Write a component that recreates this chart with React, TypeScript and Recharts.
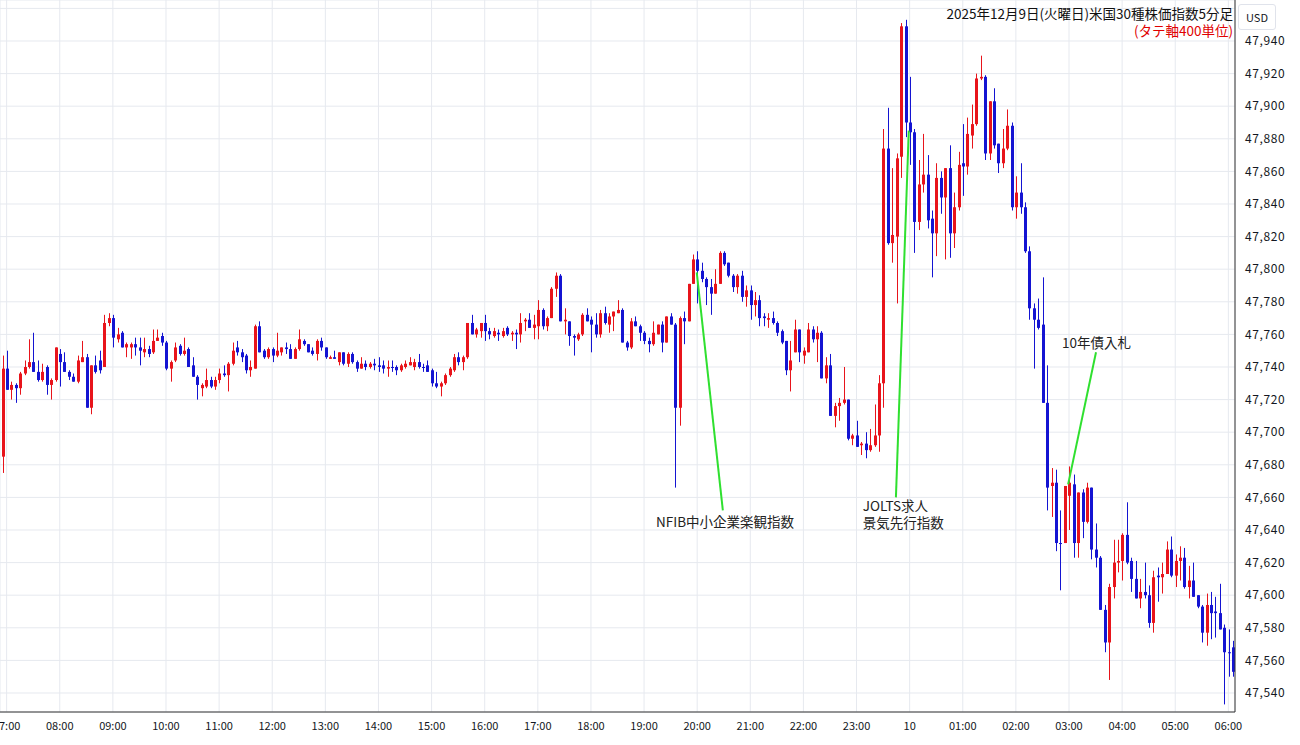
import React from 'react';
import {
  Bar,
  CartesianGrid,
  ComposedChart,
  ReferenceDot,
  ReferenceLine,
  XAxis,
  YAxis,
} from 'recharts';

// 5-minute candles, first one at 06:55 JST (index 0), [open, high, low, close]
const ohlc: [number, number, number, number][] = [
  [47685, 47747, 47675, 47739], [47739, 47750, 47726, 47726], [47726, 47731, 47720, 47729], [47729, 47730, 47718, 47727],
  [47727, 47737, 47723, 47736], [47736, 47744, 47735, 47740], [47740, 47757, 47739, 47743], [47743, 47761, 47737, 47737],
  [47737, 47744, 47731, 47732], [47732, 47742, 47731, 47737], [47740, 47741, 47723, 47729], [47729, 47733, 47720, 47732],
  [47732, 47752, 47731, 47752], [47748, 47751, 47728, 47743], [47743, 47749, 47737, 47737], [47737, 47738, 47732, 47734],
  [47734, 47736, 47731, 47731], [47731, 47747, 47730, 47744], [47743, 47756, 47743, 47746], [47746, 47748, 47715, 47715],
  [47715, 47741, 47711, 47741], [47741, 47747, 47736, 47737], [47744, 47750, 47736, 47738], [47740, 47772, 47740, 47767],
  [47767, 47773, 47765, 47770], [47770, 47772, 47752, 47758], [47757, 47764, 47755, 47760], [47761, 47762, 47752, 47752],
  [47752, 47755, 47746, 47754], [47752, 47755, 47745, 47754], [47754, 47758, 47747, 47752], [47752, 47758, 47741, 47750],
  [47749, 47758, 47746, 47751], [47751, 47753, 47746, 47748], [47749, 47763, 47748, 47756], [47756, 47763, 47756, 47758],
  [47759, 47761, 47753, 47755], [47755, 47756, 47738, 47739], [47739, 47744, 47731, 47743], [47744, 47755, 47743, 47752],
  [47753, 47754, 47747, 47748], [47748, 47758, 47747, 47750], [47751, 47752, 47740, 47740], [47741, 47746, 47734, 47734],
  [47734, 47735, 47720, 47729], [47727, 47730, 47722, 47729], [47728, 47739, 47727, 47732], [47732, 47734, 47727, 47728],
  [47728, 47734, 47726, 47732], [47732, 47739, 47730, 47736], [47736, 47741, 47734, 47735], [47735, 47743, 47725, 47742],
  [47742, 47755, 47741, 47750], [47752, 47756, 47747, 47749], [47749, 47751, 47743, 47746], [47747, 47748, 47736, 47738],
  [47738, 47744, 47734, 47740], [47739, 47766, 47739, 47765], [47765, 47768, 47749, 47749], [47750, 47751, 47745, 47746],
  [47746, 47752, 47745, 47751], [47751, 47752, 47743, 47747], [47747, 47761, 47746, 47750], [47749, 47752, 47747, 47752],
  [47752, 47755, 47748, 47751], [47751, 47754, 47745, 47745], [47745, 47752, 47745, 47751], [47751, 47763, 47750, 47757],
  [47756, 47757, 47753, 47754], [47754, 47754, 47749, 47749], [47750, 47752, 47747, 47748], [47748, 47757, 47744, 47756],
  [47756, 47758, 47750, 47752], [47752, 47752, 47745, 47746], [47745, 47747, 47745, 47746], [47746, 47750, 47745, 47745],
  [47743, 47749, 47741, 47749], [47749, 47749, 47741, 47742], [47742, 47749, 47740, 47748], [47748, 47749, 47742, 47743],
  [47743, 47744, 47737, 47739], [47739, 47746, 47739, 47742], [47742, 47744, 47738, 47740], [47740, 47743, 47739, 47742],
  [47742, 47745, 47738, 47741], [47741, 47746, 47737, 47740], [47741, 47744, 47736, 47739], [47739, 47744, 47734, 47740],
  [47740, 47744, 47737, 47740], [47740, 47741, 47735, 47738], [47738, 47742, 47737, 47741], [47740, 47744, 47739, 47742],
  [47741, 47746, 47741, 47743], [47740, 47745, 47738, 47743], [47743, 47748, 47739, 47740], [47740, 47742, 47737, 47740],
  [47741, 47744, 47737, 47737], [47738, 47739, 47728, 47730], [47730, 47737, 47727, 47728], [47728, 47731, 47722, 47730],
  [47730, 47736, 47729, 47735], [47735, 47740, 47734, 47739], [47738, 47748, 47737, 47746], [47746, 47749, 47741, 47743],
  [47743, 47747, 47738, 47746], [47746, 47767, 47745, 47767], [47767, 47772, 47760, 47760], [47760, 47764, 47758, 47763],
  [47762, 47767, 47758, 47767], [47767, 47772, 47756, 47762], [47762, 47764, 47757, 47760], [47759, 47764, 47758, 47762],
  [47761, 47763, 47756, 47760], [47759, 47764, 47758, 47762], [47764, 47765, 47759, 47760], [47760, 47762, 47756, 47761],
  [47761, 47763, 47751, 47760], [47760, 47773, 47755, 47767], [47768, 47770, 47762, 47769], [47769, 47773, 47764, 47764],
  [47764, 47772, 47757, 47766], [47765, 47781, 47757, 47775], [47775, 47776, 47763, 47765], [47765, 47771, 47762, 47770],
  [47770, 47789, 47770, 47788], [47788, 47798, 47783, 47796], [47796, 47797, 47768, 47768], [47768, 47776, 47760, 47769],
  [47768, 47768, 47753, 47759], [47759, 47760, 47747, 47758], [47757, 47761, 47756, 47760], [47760, 47773, 47759, 47772],
  [47772, 47776, 47768, 47768], [47769, 47771, 47749, 47766], [47766, 47773, 47758, 47760], [47760, 47775, 47758, 47773],
  [47773, 47777, 47766, 47767], [47766, 47773, 47761, 47771], [47771, 47774, 47762, 47774], [47773, 47781, 47773, 47775],
  [47775, 47776, 47755, 47755], [47755, 47756, 47750, 47752], [47752, 47770, 47751, 47768], [47768, 47771, 47765, 47765],
  [47765, 47766, 47756, 47761], [47761, 47762, 47754, 47756], [47756, 47758, 47749, 47754], [47754, 47768, 47753, 47761],
  [47760, 47766, 47760, 47766], [47766, 47768, 47749, 47755], [47755, 47771, 47755, 47771], [47771, 47773, 47766, 47766],
  [47766, 47767, 47666, 47715], [47715, 47771, 47704, 47770], [47770, 47774, 47754, 47768], [47768, 47791, 47768, 47791],
  [47791, 47809, 47791, 47806], [47806, 47811, 47779, 47799], [47799, 47804, 47792, 47794], [47794, 47795, 47778, 47789],
  [47789, 47794, 47772, 47785], [47785, 47800, 47785, 47791], [47791, 47811, 47791, 47810], [47810, 47811, 47802, 47803],
  [47804, 47804, 47795, 47796], [47796, 47797, 47786, 47789], [47789, 47797, 47785, 47796], [47796, 47799, 47780, 47783],
  [47783, 47790, 47777, 47787], [47787, 47790, 47769, 47778], [47778, 47786, 47771, 47781], [47781, 47784, 47765, 47770],
  [47771, 47773, 47765, 47770], [47769, 47773, 47764, 47770], [47770, 47774, 47766, 47767], [47767, 47768, 47759, 47761],
  [47762, 47763, 47754, 47755], [47756, 47756, 47735, 47738], [47738, 47756, 47725, 47744], [47749, 47769, 47749, 47763],
  [47763, 47763, 47743, 47749], [47747, 47752, 47742, 47750], [47749, 47767, 47749, 47763], [47763, 47765, 47755, 47757],
  [47757, 47765, 47743, 47761], [47761, 47762, 47733, 47733], [47733, 47746, 47730, 47741], [47741, 47748, 47710, 47710],
  [47710, 47718, 47703, 47716], [47716, 47721, 47707, 47718], [47718, 47740, 47717, 47720], [47720, 47720, 47695, 47696],
  [47696, 47699, 47692, 47698], [47698, 47707, 47691, 47691], [47692, 47694, 47686, 47693], [47693, 47700, 47684, 47689],
  [47689, 47702, 47688, 47692], [47692, 47717, 47691, 47698], [47698, 47735, 47688, 47730], [47730, 47886, 47715, 47874],
  [47874, 47899, 47815, 47816], [47816, 47862, 47804, 47821], [47820, 47871, 47779, 47868], [47869, 47951, 47856, 47949],
  [47949, 47953, 47881, 47890], [47890, 47918, 47864, 47884], [47884, 47886, 47810, 47829], [47829, 47867, 47824, 47852],
  [47852, 47883, 47847, 47858], [47858, 47870, 47825, 47830], [47831, 47836, 47795, 47822], [47822, 47865, 47808, 47856],
  [47856, 47860, 47834, 47844], [47844, 47862, 47806, 47862], [47862, 47876, 47807, 47822], [47822, 47847, 47813, 47838],
  [47838, 47872, 47836, 47864], [47865, 47889, 47845, 47863], [47863, 47893, 47858, 47883], [47882, 47901, 47874, 47889],
  [47889, 47920, 47888, 47917], [47917, 47931, 47916, 47918], [47918, 47919, 47867, 47871], [47871, 47903, 47867, 47903],
  [47903, 47911, 47874, 47876], [47877, 47877, 47859, 47865], [47865, 47886, 47862, 47874], [47874, 47898, 47873, 47888],
  [47888, 47890, 47836, 47838], [47838, 47857, 47831, 47847], [47847, 47865, 47834, 47838], [47838, 47841, 47810, 47811],
  [47811, 47814, 47769, 47776], [47776, 47779, 47739, 47769], [47769, 47782, 47763, 47764], [47766, 47795, 47718, 47718],
  [47718, 47741, 47652, 47666], [47667, 47678, 47648, 47669], [47669, 47677, 47627, 47632], [47632, 47652, 47603, 47632],
  [47632, 47667, 47632, 47667], [47661, 47679, 47640, 47669], [47668, 47674, 47623, 47632], [47632, 47663, 47623, 47663],
  [47663, 47665, 47635, 47645], [47645, 47669, 47644, 47666], [47666, 47666, 47622, 47628], [47628, 47644, 47617, 47623],
  [47623, 47624, 47591, 47591], [47591, 47594, 47565, 47571], [47571, 47607, 47548, 47605], [47605, 47634, 47598, 47620],
  [47620, 47634, 47614, 47621], [47621, 47638, 47609, 47637], [47637, 47657, 47619, 47620], [47621, 47623, 47602, 47610],
  [47610, 47621, 47598, 47598], [47598, 47610, 47592, 47602], [47602, 47620, 47598, 47600], [47600, 47606, 47580, 47583],
  [47583, 47615, 47577, 47611], [47612, 47617, 47596, 47611], [47611, 47620, 47601, 47613], [47613, 47633, 47613, 47628],
  [47628, 47636, 47611, 47612], [47612, 47625, 47605, 47621], [47621, 47630, 47609, 47623], [47623, 47629, 47604, 47605],
  [47605, 47618, 47598, 47609], [47609, 47620, 47599, 47599], [47600, 47600, 47592, 47593], [47593, 47594, 47571, 47577],
  [47577, 47601, 47569, 47594], [47594, 47602, 47573, 47589], [47590, 47599, 47574, 47589], [47589, 47607, 47579, 47579],
  [47580, 47582, 47533, 47565], [47565, 47579, 47550, 47565], [47568, 47572, 47550, 47553],
];

const hourTicks = [1, 13, 25, 37, 49, 61, 73, 85, 97, 109, 121, 133, 145, 157, 169, 181, 193, 205, 217, 229, 241, 253, 265, 277];
const hourLabels = [
  '07:00', '08:00', '09:00', '10:00', '11:00', '12:00', '13:00', '14:00', '15:00', '16:00', '17:00', '18:00',
  '19:00', '20:00', '21:00', '22:00', '23:00', '10', '01:00', '02:00', '03:00', '04:00', '05:00', '06:00',
];
const priceTicks = [
  47540, 47560, 47580, 47600, 47620, 47640, 47660, 47680, 47700, 47720, 47740,
  47760, 47780, 47800, 47820, 47840, 47860, 47880, 47900, 47920, 47940, 47960,
];
const hiddenPriceLabel = 47960; // grid line only, label sits under the USD tag

// callout lines (candle index / price) and their captions
const calloutLines = [
  { from: { x: 156.9, y: 47798 }, to: { x: 162.8, y: 47652 } },
  { from: { x: 204.8, y: 47885 }, to: { x: 201.9, y: 47660 } },
  { from: { x: 247.1, y: 47749 }, to: { x: 240.8, y: 47668 } },
];
const calloutTexts = [
  { x: 163.3, y: 47645, text: 'NFIB中小企業楽観指数', anchor: 'middle' },
  { x: 194.4, y: 47655, text: 'JOLTS求人', anchor: 'start' },
  { x: 194.4, y: 47644, text: '景気先行指数', anchor: 'start' },
  { x: 239.4, y: 47755, text: '10年債入札', anchor: 'start' },
];

const RED = '#e8141b';
const BLUE = '#1414d2';
const FONT = '"Noto Sans CJK JP", "Noto Sans", sans-serif';

const rows = ohlc.map(([o, h, l, c], i) => ({ i, o, h, l, c, range: [l, h] }));

function Candle(props: any) {
  const { x, y, width, height, payload } = props;
  if (!payload || x == null) return null;
  const { o, h, l, c } = payload;
  const top = Math.min(y, y + height);
  const span = Math.abs(height);
  const ppu = h > l ? span / (h - l) : 0;
  const py = (v: number) => top + (h - v) * ppu;
  const cx = Math.round(x + width / 2) + 0.5;
  const color = c > o ? RED : BLUE;
  const bTop = py(Math.max(o, c));
  const bBot = py(Math.min(o, c));
  return (
    <g>
      <line x1={cx} x2={cx} y1={top} y2={top + span} stroke={color} strokeWidth={1} />
      <rect x={cx - 1.5} y={bTop} width={3} height={Math.max(1, bBot - bTop)} fill={color} />
    </g>
  );
}

function Caption(text: string, anchor: string) {
  return (props: any) => (
    <text x={props.cx} y={props.cy} dy={5} textAnchor={anchor} fontSize={13.5} fill="#222" fontFamily={FONT}>
      {text}
    </text>
  );
}

export default function App() {
  return (
    <div style={{ position: 'absolute', left: 0, top: 0, width: 1300, height: 745, background: '#fff', fontFamily: FONT }}>
      <ComposedChart width={1300} height={745} data={rows} margin={{ top: 0, right: 0, bottom: 0, left: 0 }}>
        <CartesianGrid stroke="#e6e9ef" />
        <XAxis
          type="number"
          dataKey="i"
          domain={[-0.5, 278.5]}
          allowDataOverflow
          ticks={hourTicks}
          interval={0}
          tickFormatter={(v: number) => hourLabels[hourTicks.indexOf(v)] ?? ''}
          height={33}
          tickLine={false}
          tickMargin={4}
          axisLine={{ stroke: '#333' }}
          tick={{ fontSize: 11, fill: '#131722', fontFamily: FONT }}
        />
        <YAxis
          orientation="right"
          domain={[47528.34, 47965.15]}
          allowDataOverflow
          ticks={priceTicks}
          interval={0}
          width={65}
          tickLine={false}
          tickMargin={4}
          axisLine={{ stroke: '#333' }}
          tickFormatter={(v: number) => (v === hiddenPriceLabel ? '' : v.toLocaleString('en-US'))}
          tick={{ fontSize: 12, fill: '#131722', fontFamily: FONT, letterSpacing: 0.6 }}
        />
        <Bar dataKey="range" barSize={3} shape={Candle} isAnimationActive={false} />
        {calloutLines.map((s, k) => (
          <ReferenceLine key={`l${k}`} segment={[s.from, s.to]} stroke="#2fe02f" strokeWidth={2} ifOverflow="visible" />
        ))}
        {calloutTexts.map((t, k) => (
          <ReferenceDot key={`t${k}`} x={t.x} y={t.y} r={0} ifOverflow="visible" shape={Caption(t.text, t.anchor)} />
        ))}
      </ComposedChart>
      <div style={{ position: 'absolute', right: 67, top: 5, textAlign: 'right', fontSize: 13.5, lineHeight: '17px', color: '#111' }}>
        <div>2025年12月9日(火曜日)米国30種株価指数5分足</div>
        <div style={{ color: '#e00000' }}>(タテ軸400単位)</div>
      </div>
      <div
        style={{
          position: 'absolute', left: 1238, top: 4, width: 36, height: 24, background: '#fff',
          border: '1px solid #e0e3eb', borderRadius: 3, fontSize: 11, lineHeight: '24px', textAlign: 'center', color: '#131722',
        }}
      >
        USD
      </div>
    </div>
  );
}
